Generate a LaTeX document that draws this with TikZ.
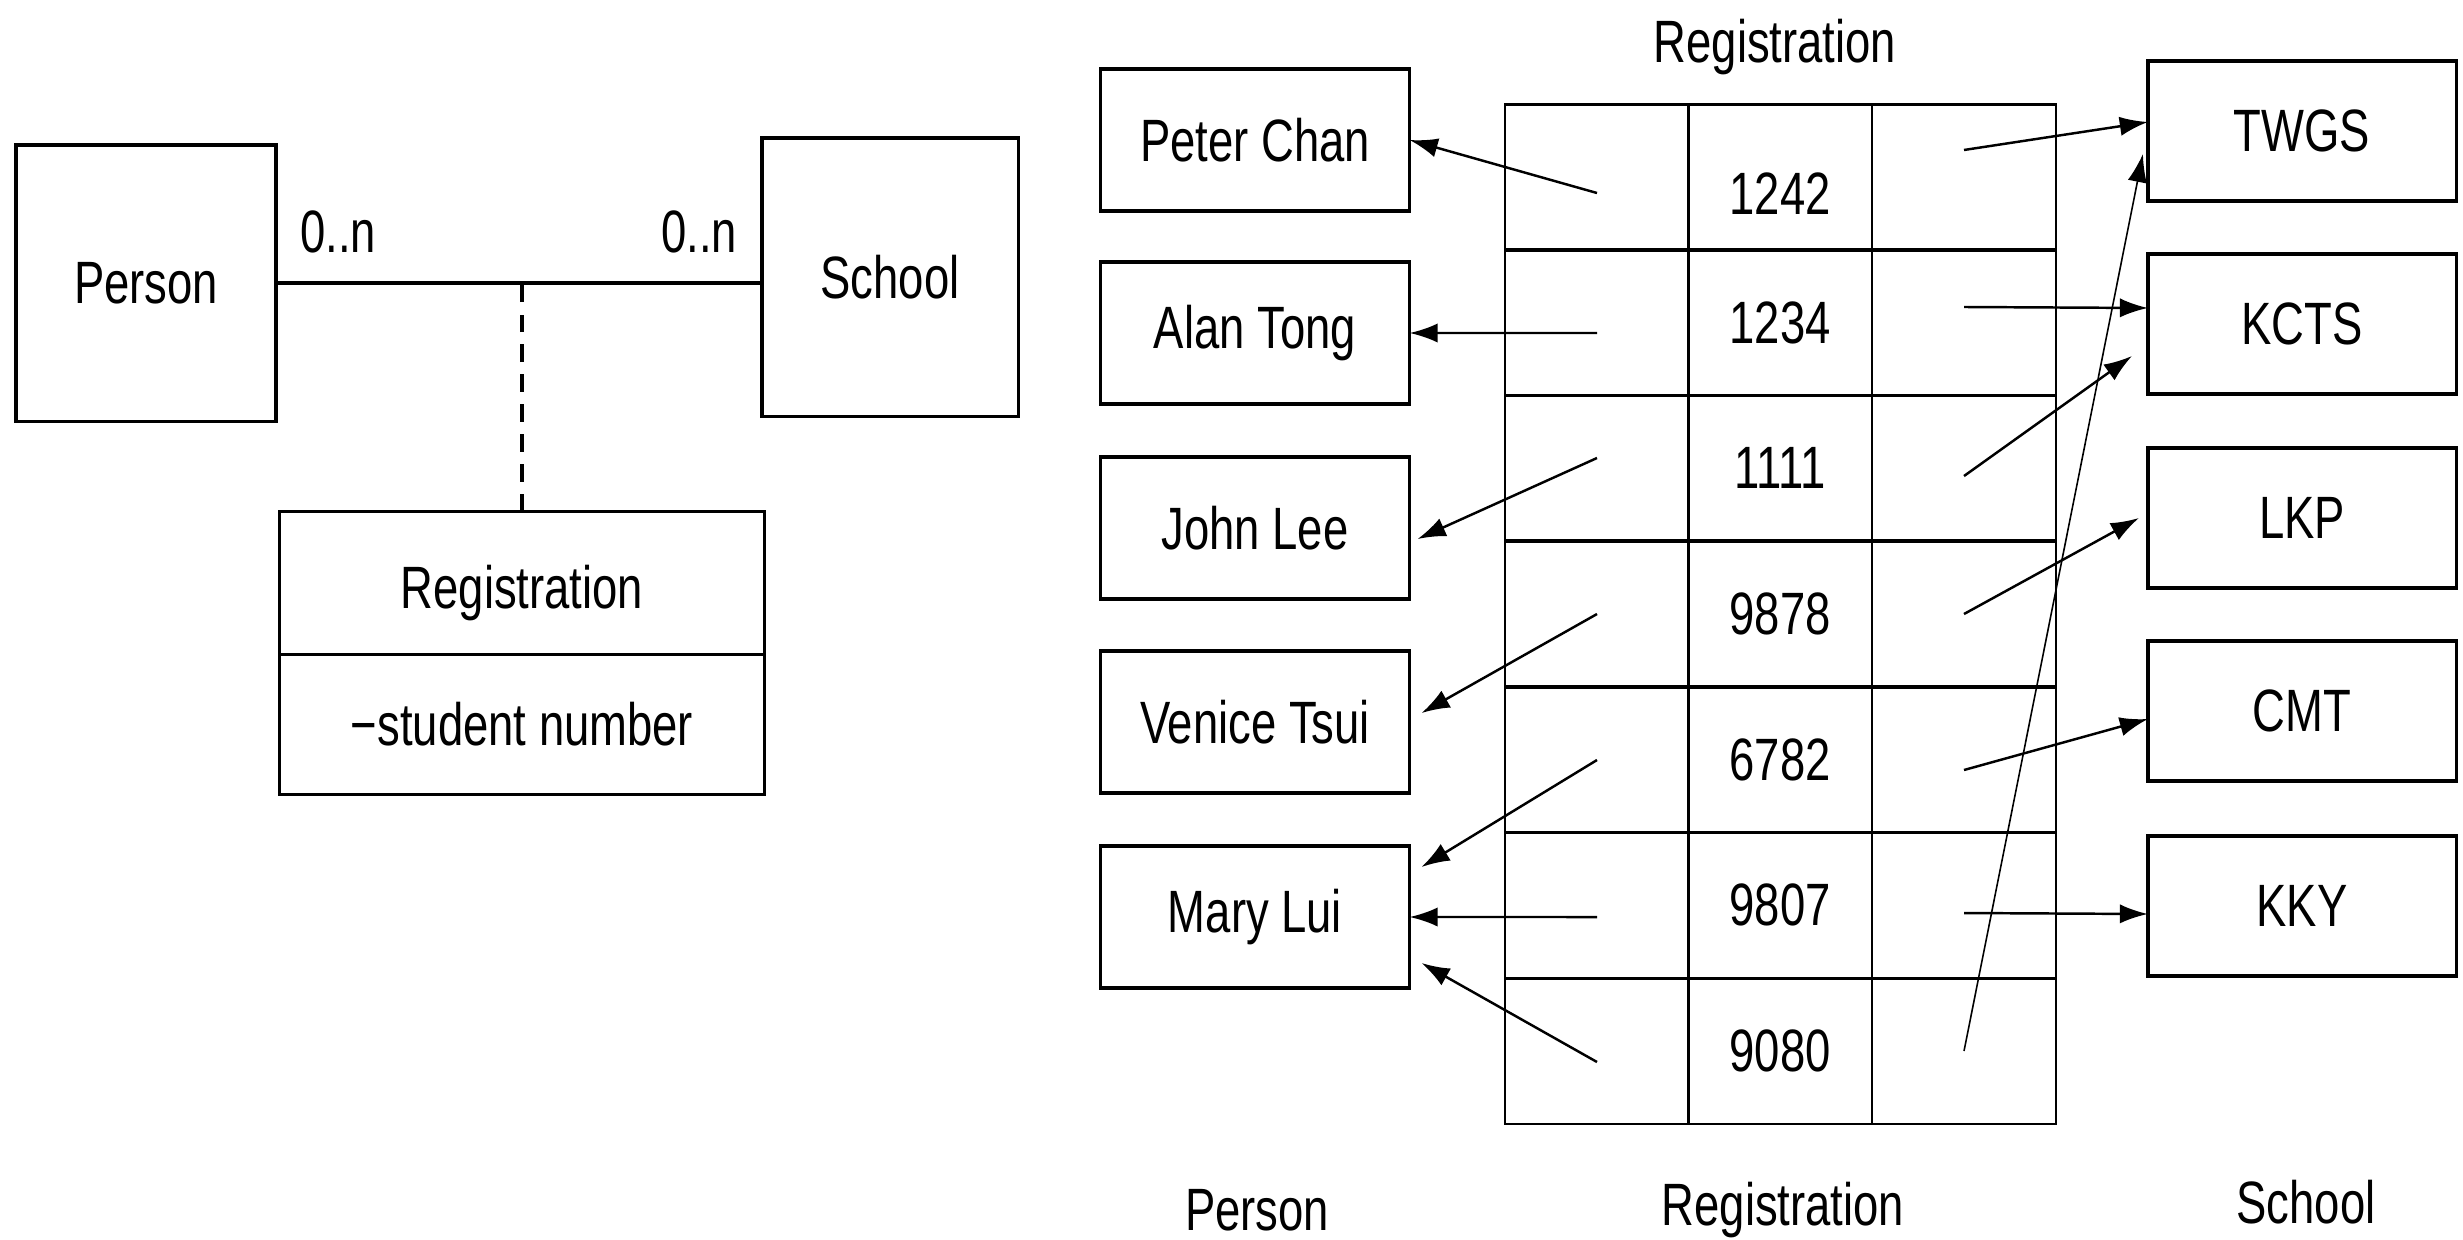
\documentclass[tikz,border=0pt]{standalone}
\usepackage{fontspec}
\setmainfont{Liberation Sans}[FakeStretch=0.76]
\usepackage{tikz}
\usetikzlibrary{shapes,arrows.meta,positioning}

\begin{document}
\begin{tikzpicture}[
    x=0.01cm, y=-0.01cm,
    font=\fontsize{17}{20}\selectfont,
    box/.style={rectangle, draw, line width=0.9pt, outer sep=0pt, minimum width=3.09cm, minimum height=1.42cm},
    schoolbox/.style={box, minimum width=3.08cm, minimum height=1.40cm},
    cell/.style={rectangle, draw, line width=0.8pt, outer sep=0pt, inner sep=0pt, minimum width=1.84cm, minimum height=1.457cm},
    link/.style={-{Latex[length=8pt,width=5.5pt]}, line width=0.7pt},
    thinlink/.style={link, line width=0.45pt}
]
    \useasboundingbox (0,0) rectangle (2463,1239);

    % Class diagram
    \node[box, minimum width=2.6cm, minimum height=2.76cm] (person) at (146,283) {Person};
    \node[box, minimum width=2.56cm, minimum height=2.78cm] (school) at (890,277) {School};
    \node[box, minimum width=4.85cm, minimum height=1.43cm, text height=0.64cm] (regname) at (522,583) {Registration};
    \node[box, minimum width=4.85cm, minimum height=1.40cm, below=0pt of regname] (regattr) {−student number};
    \node (pmult) at (338,232) {0..n};
    \node (smult) at (699,232) {0..n};
    \draw[line width=0.9pt] (person.east) -- (person.east -| school.west);
    \coordinate (assoc) at (regname.north |- person.east);
    \draw[line width=0.9pt, dash pattern=on 5pt off 3.5pt] (regname.north) -- (assoc);

    % Objects - persons
    \node[box] (peter) at (1255,140) {Peter Chan};
    \node[box] (alan) at (1255,333) {Alan Tong};
    \node[box] (john) at (1255,528) {John Lee};
    \node[box] (venice) at (1255,722) {Venice Tsui};
    \node[box] (mary) at (1255,917) {Mary Lui};

    % Objects - schools
    \node[schoolbox] (twgs) at (2302,131) {TWGS};
    \node[schoolbox] (kcts) at (2302,324) {KCTS};
    \node[schoolbox] (lkp) at (2302,518) {LKP};
    \node[schoolbox] (cmt) at (2302,711) {CMT};
    \node[schoolbox] (kky) at (2302,906) {KKY};

    % Registration table
    \node[cell] (l1) at (1597,177) {}; \node[cell, text height=0.75cm] (n1) at (1780,177) {1242}; \node[cell] (r1) at (1964,177) {};
    \node[cell] (l2) at (1597,323) {}; \node[cell] (n2) at (1780,323) {1234}; \node[cell] (r2) at (1964,323) {};
    \node[cell] (l3) at (1597,468) {}; \node[cell] (n3) at (1780,468) {1111}; \node[cell] (r3) at (1964,468) {};
    \node[cell] (l4) at (1597,614) {}; \node[cell] (n4) at (1780,614) {9878}; \node[cell] (r4) at (1964,614) {};
    \node[cell] (l5) at (1597,760) {}; \node[cell] (n5) at (1780,760) {6782}; \node[cell] (r5) at (1964,760) {};
    \node[cell] (l6) at (1597,905) {}; \node[cell] (n6) at (1780,905) {9807}; \node[cell] (r6) at (1964,905) {};
    \node[cell] (l7) at (1597,1051) {}; \node[cell] (n7) at (1780,1051) {9080}; \node[cell] (r7) at (1964,1051) {};

    % Captions
    \node (regtitle) at (1775,47) {Registration};
    \node (personlbl) at (1257,1210) {Person};
    \node (reglbl) at (1783,1210) {Registration};
    \node (schoollbl) at (2306,1202) {School};

    % Links to persons
    \draw[link] ([yshift=-0.16cm]l1.center) -- (peter.east);
    \draw[link] ([yshift=-0.1cm]l2.center) -- (alan.east);
    \draw[link] ([yshift=0.1cm]l3.center) -- ([xshift=0.08cm,yshift=-0.11cm]john.east);
    \draw[link] (l4.center) -- ([xshift=0.12cm,yshift=0.09cm]venice.east);
    \draw[link] (l5.center) -- ([xshift=0.12cm,yshift=0.5cm]mary.east);
    \draw[link] ([yshift=-0.12cm]l6.center) -- (mary.east);
    \draw[link] ([yshift=-0.11cm]l7.center) -- ([xshift=0.12cm,yshift=-0.46cm]mary.east);

    % Links to schools
    \draw[link] ([yshift=0.27cm]r1.center) -- ([yshift=0.09cm]twgs.west);
    \draw[link] ([yshift=0.16cm]r2.center) -- ([yshift=0.16cm]kcts.west);
    \draw[link] ([yshift=-0.08cm]r3.center) -- ([xshift=-0.16cm,yshift=-0.32cm]kcts.west);
    \draw[link] (r4.center) -- ([xshift=-0.09cm]lkp.west);
    \draw[link] ([yshift=-0.1cm]r5.center) -- ([yshift=-0.08cm]cmt.west);
    \draw[link] ([yshift=-0.08cm]r6.center) -- ([yshift=-0.08cm]kky.west);
    \draw[thinlink] (r7.center) -- ([xshift=-0.05cm,yshift=-0.23cm]twgs.west);
\end{tikzpicture}
\end{document}
